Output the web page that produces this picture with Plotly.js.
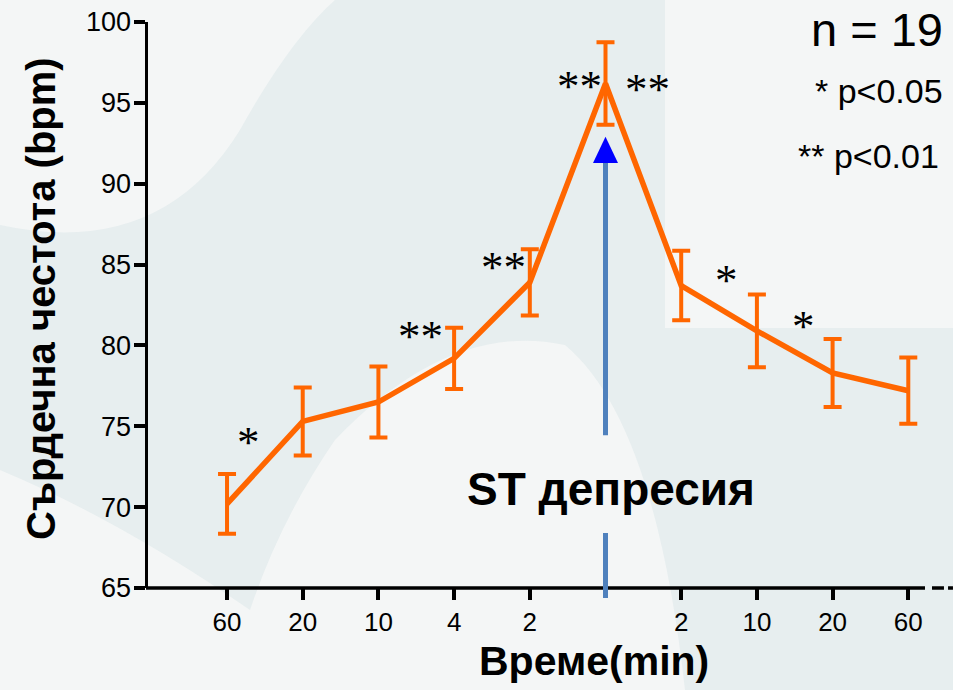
<!DOCTYPE html>
<html><head><meta charset="utf-8">
<script src="https://cdn.plot.ly/plotly-3.0.1.min.js"></script>
<style>html,body{margin:0;padding:0;background:#f4f6f6}</style>
</head><body><div id="chart" style="width:953px;height:690px"></div>
<script>
// Data
const timeLabels = ["60","20","10","4","2","","2","10","20","60"];
const heartRate  = [70.2, 75.3, 76.5, 79.2, 83.9, 96.2, 83.7, 80.9, 78.3, 77.2];
const sem        = [1.85, 2.1, 2.2, 1.9, 2.05, 2.55, 2.15, 2.25, 2.1, 2.05];
const sigLabels  = ["*", "**", "**", "**", "**", "*", "*"];
const sigX       = [0.29, 2.55, 3.65, 4.66, 5.55, 6.6, 7.61];
const sigY       = [74.3, 80.8, 85.1, 96.3, 96.1, 84.3, 81.45];
const peakIndex  = 5;
const yTicks     = [65,70,75,80,85,90,95,100];

const xIdx = timeLabels.map((_, i) => i);
const tickVals = xIdx.filter(i => timeLabels[i] !== "");
const tickText = tickVals.map(i => timeLabels[i]);

const W = 953, H = 690, M = {l: 148, r: 8, t: 22, b: 102};
const PW = W - M.l - M.r, PH = H - M.t - M.b;
// helper: pixel position -> paper coordinates (for decoration only)
const px = v => ((v - M.l) / PW).toFixed(4);
const py = v => ((H - M.b - v) / PH).toFixed(4);
const pathFrom = cmds => cmds.map(c => c[0] + ' ' + (c.length > 1 ? c.slice(1).map((v, k) => k % 2 === 0 ? px(v) : py(v)).join(' ') : '')).join(' ');

const orange = '#ff6600';
const trace = {
  type: 'scatter', mode: 'lines',
  x: xIdx, y: heartRate,
  line: {color: orange, width: 5.5},
  error_y: {type: 'data', array: sem, visible: true, color: orange, thickness: 4, width: 9},
  hoverinfo: 'skip', showlegend: false, cliponaxis: false
};

const annotations = sigLabels.map((t, i) => ({
  x: sigX[i], y: sigY[i], xref: 'x', yref: 'y', text: t, showarrow: false,
  font: {family: 'Liberation Serif, serif', size: 45, color: '#000'},
  xanchor: 'center', yanchor: 'middle', yshift: -4
}));
const sans = 'Liberation Sans, Arial';
annotations.push(
  {xref: 'paper', yref: 'paper', x: 1.0, y: py(29), text: 'n = 19', showarrow: false,
   xanchor: 'right', yanchor: 'middle', font: {family: sans, size: 47, color: '#000'}},
  {xref: 'paper', yref: 'paper', x: 1.0, y: py(91), text: '* p<0.05', showarrow: false,
   xanchor: 'right', yanchor: 'middle', font: {family: sans, size: 34, color: '#000'}},
  {xref: 'paper', yref: 'paper', x: px(941), y: py(156), text: '** p<0.01', showarrow: false,
   xanchor: 'right', yanchor: 'middle', font: {family: sans, size: 34, color: '#000'}},
  {xref: 'paper', yref: 'paper', x: px(611), y: py(489), text: '<b>ST депресия</b>', showarrow: false,
   xanchor: 'center', yanchor: 'middle', font: {family: sans, size: 46, color: '#000'}},
  {xref: 'paper', yref: 'paper', x: px(594), y: py(661), text: '<b>Време(min)</b>', showarrow: false,
   xanchor: 'center', yanchor: 'middle', font: {family: sans, size: 41, color: '#000'}},
  {xref: 'paper', yref: 'paper', x: px(41), y: py(298), text: '<b>Сърдечна честота (bpm)</b>', showarrow: false,
   textangle: -90, xanchor: 'center', yanchor: 'middle', font: {family: sans, size: 40, color: '#000'}}
);

const teal = 'rgba(212,227,228,0.42)';
const shapes = [
  // faint background waves (decoration)
  {type: 'path', xref: 'paper', yref: 'paper', layer: 'below', fillcolor: teal, line: {width: 0},
   path: pathFrom([['M',0,225],['Q',160,260,240,130],['Q',290,40,335,0],['L',665,0],['L',665,328],['L',953,328],['L',953,690],
                   ['L',685,690],['Q',655,420,565,345],['Q',450,320,335,440],['Q',280,520,250,610],['Q',120,520,0,470],['Z']])},
  // time axis line with a break at the right end
  {type: 'line', xref: 'paper', yref: 'paper', x0: px(146), x1: px(925), y0: py(588), y1: py(588), line: {color: '#000', width: 3.5}},
  {type: 'line', xref: 'paper', yref: 'paper', x0: px(932), x1: px(944), y0: py(588), y1: py(588), line: {color: '#000', width: 3.5}},
  {type: 'line', xref: 'paper', yref: 'paper', x0: px(948), x1: px(953), y0: py(588), y1: py(588), line: {color: '#000', width: 3.5}},
  // ST arrow shaft
  {type: 'line', xref: 'x', yref: 'y', x0: peakIndex, x1: peakIndex, y0: 74.45, y1: 91.4,
   line: {color: '#4f81bd', width: 5}},
  // arrow head
  {type: 'path', xref: 'x', yref: 'y',
   path: `M ${peakIndex-0.165} 91.28 L ${peakIndex+0.165} 91.28 L ${peakIndex} 92.9 Z`,
   fillcolor: '#0000ff', line: {width: 0}},
  // lower marker crossing the time axis
  {type: 'line', xref: 'x', yref: 'paper', x0: peakIndex, x1: peakIndex, y0: py(533), y1: py(598),
   line: {color: '#4f81bd', width: 5}}
];

const layout = {
  width: W, height: H,
  margin: M,
  paper_bgcolor: '#f4f6f6', plot_bgcolor: 'rgba(0,0,0,0)',
  font: {family: sans, color: '#000'},
  xaxis: {
    range: [-1.044, 9.485], tickmode: 'array', tickvals: tickVals, ticktext: tickText,
    showline: false, ticks: 'outside', ticklen: 11, tickwidth: 4,
    tickcolor: '#000', showgrid: false, zeroline: false, tickfont: {size: 26}
  },
  yaxis: {
    range: [65, 100], tickmode: 'array', tickvals: yTicks,
    showline: true, linecolor: '#000', linewidth: 3.5, ticks: 'outside', ticklen: 11, tickwidth: 4,
    tickcolor: '#000', showgrid: false, zeroline: false, tickfont: {size: 27}, ticklabelstandoff: -3
  },
  annotations: annotations, shapes: shapes, showlegend: false
};

Plotly.newPlot('chart', [trace], layout, {displayModeBar: false, staticPlot: true});
</script></body></html>
